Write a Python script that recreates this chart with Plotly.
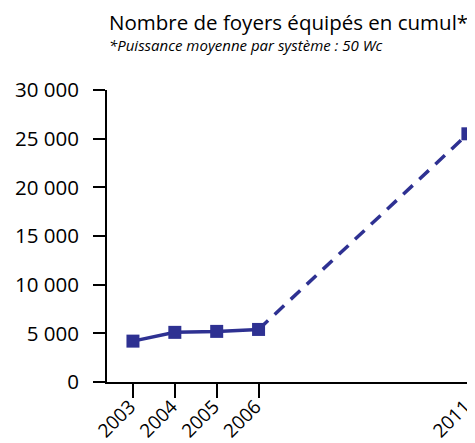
import plotly.graph_objects as go

years_solid = [2003, 2004, 2005, 2006]
values_solid = [4200, 5100, 5200, 5400]
years_dash = [2006, 2011]
values_dash = [5400, 25500]
all_years = [2003, 2004, 2005, 2006, 2011]
all_values = [4200, 5100, 5200, 5400, 25500]

y_ticks = [0, 5000, 10000, 15000, 20000, 25000, 30000]
y_ticklabels = ["0", "5 000", "10 000", "15 000", "20 000", "25 000", "30 000"]
x_ticklabels = ["2003", "2004", "2005", "2006", "2011"]

title = "Nombre de foyers équipés en cumul*"
subtitle = "*Puissance moyenne par système : 50 Wc"

color = "#2E3192"
font = "Open Sans"

fig = go.Figure()
fig.add_trace(go.Scatter(x=years_solid, y=values_solid, mode="lines",
                         line=dict(color=color, width=3.5), showlegend=False,
                         cliponaxis=False))
fig.add_trace(go.Scatter(x=years_dash, y=values_dash, mode="lines",
                         line=dict(color=color, width=3.5, dash="13px,9px"), showlegend=False,
                         cliponaxis=False))
fig.add_trace(go.Scatter(x=all_years, y=all_values, mode="markers",
                         marker=dict(color=color, symbol="square", size=13),
                         showlegend=False, cliponaxis=False))

# the page body has an 8px margin, so the figure is shifted by 8px
fig.update_layout(
    width=467, height=435,
    margin=dict(l=99, r=5, t=82, b=61),
    plot_bgcolor="white", paper_bgcolor="white",
    font=dict(family=font, color="black", size=20),
    xaxis=dict(range=[2002.38, 2011.05], tickvals=all_years, ticktext=x_ticklabels,
               tickangle=-45, showgrid=False, zeroline=False, showline=True,
               linecolor="black", linewidth=2, ticks="outside", ticklen=14,
               tickwidth=2, tickcolor="black", tickfont=dict(size=19, family=font),
               automargin=False, ticklabeloverflow="allow",
               ticklabelstandoff=-10, ticklabelshift=-3),
    yaxis=dict(range=[0, 30000], tickvals=y_ticks, ticktext=y_ticklabels,
               showgrid=False, zeroline=False, showline=True, linecolor="black",
               linewidth=2, ticks="outside", ticklen=12, tickwidth=2,
               tickcolor="black", tickfont=dict(size=20.5, family=font),
               ticklabelstandoff=10, automargin=False, ticklabeloverflow="allow"),
    annotations=[
        dict(text=title, xref="paper", yref="paper", x=0, y=1.233, xanchor="left",
             yanchor="middle", showarrow=False, font=dict(size=20.5, family=font)),
        dict(text="<i>" + subtitle + "</i>", xref="paper", yref="paper", x=0, y=1.154,
             xanchor="left", yanchor="middle", showarrow=False,
             font=dict(size=15, family=font)),
    ],
)

fig.write_html("out.html")
